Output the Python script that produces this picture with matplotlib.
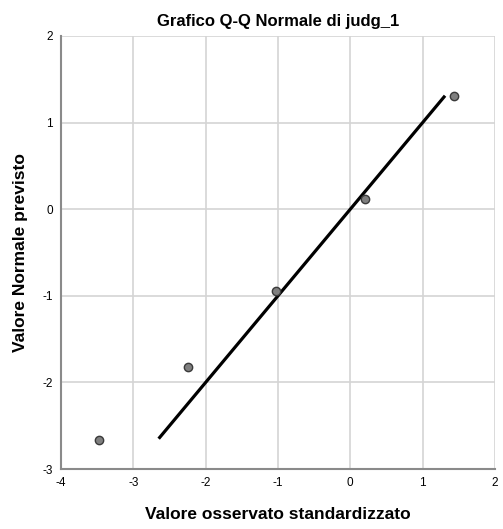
import numpy as np
import matplotlib
matplotlib.use('Agg')
import matplotlib.pyplot as plt

plt.rcParams['font.family'] = ['Liberation Sans', 'DejaVu Sans']
plt.rcParams['axes.unicode_minus'] = False

# observed standardized values vs expected normal values
observed = [-3.48, -2.25, -1.03, 0.21, 1.44]
expected = [-2.66, -1.82, -0.95, 0.12, 1.31]
# reference line endpoints
line_x = [-2.65, 1.31]
line_y = [-2.65, 1.31]

xticks = [-4, -3, -2, -1, 0, 1, 2]
yticks = [-3, -2, -1, 0, 1, 2]

fig = plt.figure(figsize=(5.03, 5.29), dpi=100)
ax = fig.add_axes([0.1213, 0.1134, 0.8627, 0.8186])
fig.patch.set_facecolor('white')

ax.grid(color='#d4d4d4', linestyle='-', linewidth=1.2)
ax.set_axisbelow(True)

ax.plot(line_x, line_y, color='black', linewidth=2.3, solid_capstyle='butt', zorder=3)
ax.plot(observed, expected, linestyle='none', marker='o', markersize=6,
        markerfacecolor='#7f7f7f', markeredgecolor='#3a3a3a', markeredgewidth=1.0, zorder=4)

ax.set_xlim(-4, 2)
ax.set_ylim(-3, 2)
ax.set_xticks(xticks)
ax.set_yticks(yticks)
ax.tick_params(axis='both', length=0, labelsize=8.5, colors='black')
ax.tick_params(axis='x', pad=6)
ax.tick_params(axis='y', pad=6)

for s in ['top', 'right']:
    ax.spines[s].set_visible(False)
for s in ['left', 'bottom']:
    ax.spines[s].set_color('#8a8a8a')
    ax.spines[s].set_linewidth(1.5)

ax.set_title('Grafico Q-Q Normale di judg_1', fontsize=12, fontweight='bold', pad=7)
ax.set_xlabel('Valore osservato standardizzato', fontsize=12.5, fontweight='bold', labelpad=13)
ax.set_ylabel('Valore Normale previsto', fontsize=12.5, fontweight='bold', labelpad=10)

fig.savefig('out.png', dpi=100)
